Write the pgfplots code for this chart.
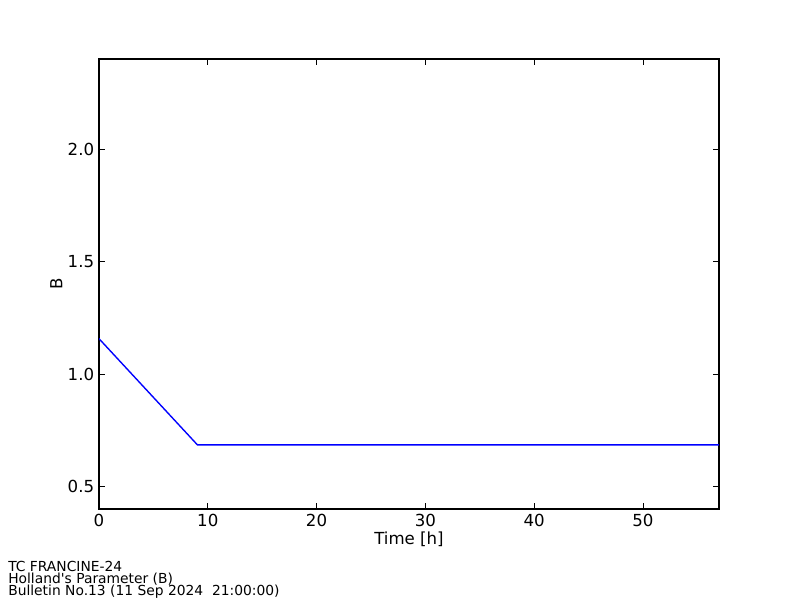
\documentclass[border=0pt]{standalone}
\usepackage{fontspec}
\setmainfont{DejaVu Sans}
\newfontfamily\footfont{DejaVu Sans}
\usepackage{pgfplots}
\pgfplotsset{compat=1.18}
\begin{document}
\begin{tikzpicture}
\path[fill=white] (0,0) rectangle (8in,6in);
\begin{axis}[
  at={(0.99in,0.91in)}, anchor=south west,
  scale only axis,
  width=6.2in, height=4.5in,
  xmin=0, xmax=57,
  ymin=0.4, ymax=2.4,
  xtick={0,10,20,30,40,50},
  ytick={0.5,1.0,1.5,2.0},
  yticklabel style={/pgf/number format/.cd,fixed,fixed zerofill,precision=1},
  tick align=inside,
  major tick length=4pt,
  tick style={black, line width=0.5pt},
  axis line style={line width=0.8pt},
  ticklabel style={font=\fontsize{12}{14}\selectfont},
  /pgf/number format/assume math mode=true,
  xlabel={Time [h]},
  ylabel={B},
  label style={font=\fontsize{12}{14}\selectfont},
  xlabel style={yshift=3pt},
  ylabel style={yshift=-3pt},
]
\addplot[color={rgb,255:red,0;green,0;blue,255}, line width=1pt] coordinates {
  (0,1.157)
  (9.05,0.685)
  (57,0.685)
};
\end{axis}
\node[anchor=base west, font=\footfont\fontsize{10}{11}\selectfont, inner sep=0pt] at (0.08in,0.29in) {TC FRANCINE-24};
\node[anchor=base west, font=\footfont\fontsize{10}{11}\selectfont, inner sep=0pt] at (0.08in,0.17in) {Holland's Parameter (B)};
\node[anchor=base west, font=\footfont\fontsize{10}{11}\selectfont, inner sep=0pt] at (0.08in,0.05in) {Bulletin No.13 (11 Sep 2024\ \ 21:00:00)};
\end{tikzpicture}
\end{document}
